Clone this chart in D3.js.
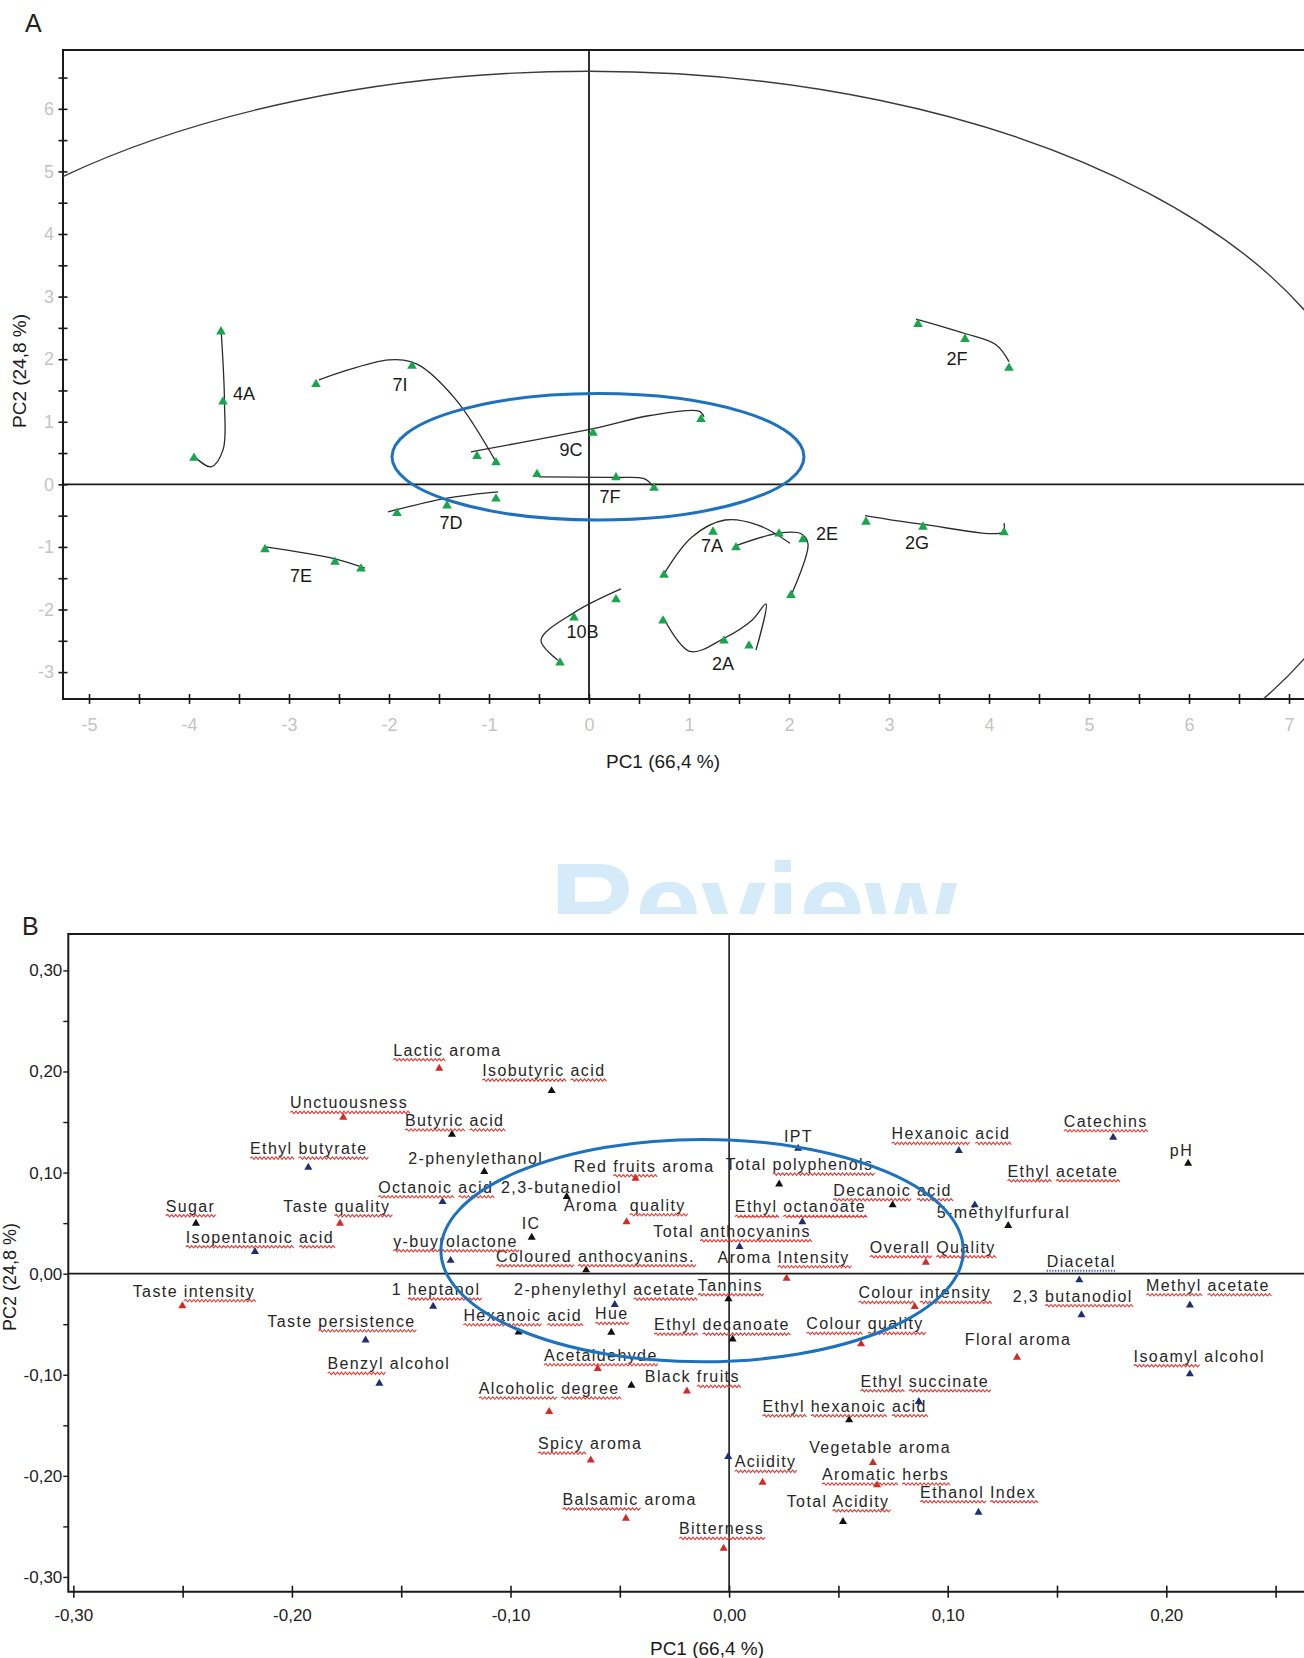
<!DOCTYPE html>
<html><head><meta charset="utf-8">
<script src="https://cdn.jsdelivr.net/npm/d3@7"></script>
<style>
body{margin:0;background:#fff;}
svg{display:block;font-family:"Liberation Sans",Arial,sans-serif;}
</style></head><body>
<svg id="fig" width="1304" height="1658"></svg>
<script>
// ---------- Panel A: wine sample scores (PC1 / PC2) ----------
const groupNames = ["4A","7I","9C","7F","7D","7E","10B","2A","7A","2E","2G","2F"];

// trajectory traced by each wine over time
const groupPaths = [
  [[-3.68,2.49],[-3.645,1.3],[-3.66,0.55],[-3.78,0.28],[-3.95,0.45]],
  [[-2.7,1.67],[-2.0,1.99],[-1.72,1.92],[-1.33,1.35],[-0.92,0.33]],
  [[-1.18,0.52],[0.04,0.89],[0.61,1.1],[1.1,1.17],[1.15,1.08]],
  [[-0.5,0.12],[0.27,0.11],[0.55,0.09],[0.64,-0.03]],
  [[-2.01,-0.44],[-1.42,-0.22],[-0.91,-0.12]],
  [[-3.24,-1.0],[-2.54,-1.19],[-2.24,-1.34]],
  [[0.32,-1.67],[-0.15,-2.05],[-0.48,-2.49],[-0.31,-2.81]],
  [[0.74,-2.12],[1.01,-2.67],[1.35,-2.46],[1.63,-2.17],[1.77,-1.91],[1.67,-2.65]],
  [[0.75,-1.43],[1.03,-0.84],[1.36,-0.57],[1.69,-0.65],[2.01,-0.94]],
  [[1.47,-0.98],[1.9,-0.78],[2.12,-0.79],[2.19,-0.95],[2.03,-1.74]],
  [[2.76,-0.5],[3.34,-0.64],[4.14,-0.76],[4.15,-0.62]],
  [[3.27,2.64],[3.76,2.41],[4.07,2.23],[4.2,1.96]]
];

// sampled scores (triangles)
const groupSamples = [
  [[-3.68,2.44],[-3.66,1.32],[-3.95,0.42]],
  [[-2.73,1.60],[-1.77,1.89],[-0.93,0.35]],
  [[-1.12,0.45],[0.04,0.82],[1.12,1.04]],
  [[-0.52,0.16],[0.27,0.11],[0.65,-0.06]],
  [[-1.92,-0.46],[-1.42,-0.34],[-0.93,-0.23]],
  [[-3.24,-1.04],[-2.54,-1.24],[-2.28,-1.35]],
  [[0.27,-1.84],[-0.15,-2.13],[-0.29,-2.85]],
  [[0.74,-2.18],[1.35,-2.5],[1.6,-2.58]],
  [[0.75,-1.45],[1.24,-0.76],[1.9,-0.79]],
  [[1.47,-1.01],[2.14,-0.88],[2.02,-1.77]],
  [[2.77,-0.6],[3.34,-0.68],[4.15,-0.77]],
  [[3.29,2.56],[3.76,2.32],[4.2,1.86]]
];

// where each wine name is written (PC1, PC2)
const groupLabelAt = [
  [-3.45,1.45],[-1.89,1.59],[-0.18,0.55],[0.21,-0.2],[-1.38,-0.61],[-2.88,-1.45],
  [-0.065,-2.35],[1.34,-2.86],[1.23,-0.97],[2.38,-0.78],[3.28,-0.93],[3.68,2.01]
];

// confidence ellipse semi-axes (PC1, PC2 units) and the highlighted cluster
const confidenceAxes = [7.89, 6.6];
const clusterA = {cx: 0.09, cy: 0.44, rx: 2.06, ry: 1.01};

const ticksA_x = d3.range(-10, 15).map(v => v / 2);
const ticksA_y = d3.range(-6, 14).map(v => v / 2);

// ---------- Panel B: variable loadings ----------
const loadNames = [
  "Lactic aroma","Isobutyric acid","Unctuousness","Butyric acid","Ethyl butyrate","2-phenylethanol",
  "Red fruits aroma","Octanoic acid","2,3-butanediol","Aroma  quality","Sugar","Taste quality",
  "Isopentanoic acid","IC","γ-buyrolactone","Coloured anthocyanins.","IPT","Total polyphenols",
  "Ethyl octanoate","Total anthocyanins","Aroma Intensity","Hexanoic acid","Catechins","pH",
  "Ethyl acetate","Decanoic acid","5-méthylfurfural","Overall Quality","Diacetal","Taste intensity",
  "1 heptanol","2-phenylethyl acetate","Tannins","Colour intensity","2,3 butanodiol","Methyl acetate",
  "Taste persistence","Hexanoic acid","Hue","Ethyl decanoate","Colour quality","Floral aroma",
  "Isoamyl alcohol","Benzyl alcohol","Acetaldehyde","","Black fruits","Alcoholic degree",
  "Ethyl succinate","Ethyl hexanoic acid","Spicy aroma","Vegetable aroma","","Aciidity",
  "Aromatic herbs","Ethanol Index","Total Acidity","Balsamic aroma","Bitterness"
];
const loadPC1 = [
  -0.1326,-0.0812,-0.1765,-0.1268,-0.1925,-0.1120,
  -0.0428,-0.1311,-0.0743,-0.0469,-0.2439,-0.1780,
  -0.2169,-0.0903,-0.1274,-0.0654,0.0316,0.0229,
  0.0335,0.0048,0.0263,0.1051,0.1757,0.2100,
  0.1124,0.0748,0.1277,0.0900,0.1602,-0.2501,
  -0.1354,-0.0523,-0.0003,0.0849,0.1612,0.2108,
  -0.1663,-0.0963,-0.0539,0.0016,0.0604,0.1317,
  0.2108,-0.1600,-0.0601,-0.0447,-0.0193,-0.0823,
  0.0868,0.0549,-0.0633,0.0658,-0.0004,0.0153,
  0.0677,0.1141,0.0521,-0.0472,-0.0025
];
const loadPC2 = [
  0.2031,0.1809,0.1546,0.1378,0.1051,0.1008,
  0.0943,0.0711,0.0761,0.0513,0.0498,0.0498,
  0.0217,0.0359,0.0130,0.0036,0.1239,0.0886,
  0.0513,0.0266,-0.0046,0.1216,0.1348,0.1091,
  0.0679,0.0679,0.0474,0.0112,-0.0063,-0.0320,
  -0.0323,-0.0306,-0.0249,-0.0327,-0.0409,-0.0311,
  -0.0657,-0.0578,-0.0581,-0.0647,-0.0696,-0.0828,
  -0.0993,-0.1085,-0.0941,-0.1105,-0.1163,-0.1366,
  -0.1267,-0.1448,-0.1844,-0.1870,-0.1811,-0.2064,
  -0.2091,-0.2361,-0.2454,-0.2420,-0.2717
];
// s = sensory, v = volatile compound, c = chemical parameter
const loadKind = [
  "s","c","s","c","v","c",
  "s","v","c","s","c","s",
  "v","c","v","c","v","c",
  "v","v","s","v","v","c",
  "v","c","c","s","v","s",
  "v","v","c","s","v","v",
  "v","c","c","c","s","s",
  "v","v","s","c","s","s",
  "v","c","s","s","v","s",
  "s","v","c","s","s"
];
const ticksB_x = d3.range(-6, 6).map(v => v / 20);
const ticksB_y = d3.range(-6, 7).map(v => v / 20);
const clusterB = {cx: -0.01235, cy: 0.0228, rx: 0.1195, ry: 0.11};

// label placement: pixel offset of text start / baseline from its marker
const loadLabelOffset = [
  [-46,-12.6],[-69.4,-14.7],[-53.3,-9],[-47,-8.3],[-58.3,-13.3],[-76,-7.4],
  [-61.7,-6.6],[-64.4,-9],[-65.7,-3.4],[-62.7,-11],[-30.3,-11.6],[-56.7,-11.6],
  [-69.3,-9],[-10,-8],[-57.4,-13.8],[-90.2,-8.3],[-14.3,-6.6],[-53.3,-14],
  [-67.5,-9.4],[-86.3,-10],[-69,-15.6],[-67.3,-11.4],[-49.3,-10.6],[-18.3,-7.3],
  [32.7,-28.3],[-59.4,-9.3],[-71.6,-7.4],[-56,-9.6],[-32.6,-13.3],[-49.7,-9.3],
  [-41.5,-11.3],[-100.7,-9.5],[-30.6,-8.1],[-56.3,-8.4],[-68.8,-13.3],[-43.8,-14.3],
  [-98.3,-13.3],[-55.2,-11.3],[-16.3,-13],[-78.5,-9],[-54.8,-14.7],[-52.2,-12.3],
  [-56.3,-12.3],[-51.9,-14],[-53.8,-8],[0,0],[-42.1,-8.9],[-70.4,-17.7],
  [-58.4,-15],[-86.7,-8.3],[-52.7,-11],[-63.8,-10],[0,0],[-27.9,-15],
  [-55.1,-5],[-58.4,-14.6],[-56.3,-15],[-63.4,-13.3],[-44.6,-14]
];
// words carrying a proofing underline (word indices); "dot" = dotted blue
const proofMarks = [
  [0],[0,1],[0],[0,1],[0,1],[],
  [1],[0,1],[],[1],[0],[1],
  [0,1],[],[0],[0,1],[],[1],
  [0,1],[1],[1],[0,1],[0],[],
  [0,1],[0,1],[],[0,1],"dot",[1],
  [1],[1],[0],[0,1],[1],[0,1],
  [1],[0,1],[0],[0,1],[0,1],[],
  [0],[0],[0],[],[1],[0,1],
  [0,1],[0,1,2],[0],[],[],[0],
  [0,1],[0,1],[1],[0],[0]
];
const kindColor = {s: "#d42a26", v: "#1e2f72", c: "#111111"};

const svg = d3.select("#fig");
const defs = svg.append("defs");

// ---------- watermark ----------
defs.append("clipPath").attr("id", "wmClip")
  .append("rect").attr("x", 0).attr("y", 0).attr("width", 1304).attr("height", 914);
svg.append("text").attr("clip-path", "url(#wmClip)")
  .attr("x", 550).attr("y", 946)
  .attr("font-size", 118).attr("font-weight", "bold")
  .attr("fill", "#d5ebf9").text("Review");

// ================= Panel A =================
const xA = d3.scaleLinear().domain([-5.26, 7.15]).range([63, 1304]);
const yA = d3.scaleLinear().domain([-3.43, 6.94]).range([699, 50]);
const gA = svg.append("g");

defs.append("clipPath").attr("id", "clipA")
  .append("rect").attr("x", 63).attr("y", 50).attr("width", 1304 - 63).attr("height", 649);

gA.append("text").attr("x", 25).attr("y", 32).attr("font-size", 25).attr("fill", "#222").text("A");

// frame
gA.append("path").attr("d", `M1304,50H63V699H1304`).attr("fill", "none")
  .attr("stroke", "#1a1a1a").attr("stroke-width", 2);

// axes
const axLeftA = gA.append("g").attr("transform", "translate(63,0)")
  .call(d3.axisLeft(yA).tickValues(ticksA_y)
    .tickFormat(d => Number.isInteger(d) ? String(d) : "").tickSizeOuter(0));
axLeftA.select(".domain").remove();
axLeftA.selectAll(".tick line").attr("x1", 4.5).attr("x2", -4.5).attr("stroke", "#1a1a1a").attr("stroke-width", 1.6);
axLeftA.selectAll(".tick text").attr("x", -9).attr("font-size", 18).attr("fill", "#c4c4c4").attr("font-family", null);

const axBottomA = gA.append("g").attr("transform", "translate(0,699)")
  .call(d3.axisBottom(xA).tickValues(ticksA_x)
    .tickFormat(d => Number.isInteger(d) ? String(d) : "").tickSizeOuter(0));
axBottomA.select(".domain").remove();
axBottomA.selectAll(".tick line").attr("y1", -5).attr("y2", 5).attr("stroke", "#1a1a1a").attr("stroke-width", 1.6);
axBottomA.selectAll(".tick text").attr("y", 19).attr("font-size", 18).attr("fill", "#c4c4c4").attr("font-family", null);

// zero lines
gA.append("line").attr("x1", 63).attr("x2", 1304).attr("y1", yA(0)).attr("y2", yA(0))
  .attr("stroke", "#1a1a1a").attr("stroke-width", 1.8);
gA.append("line").attr("x1", xA(0)).attr("x2", xA(0)).attr("y1", 50).attr("y2", 699)
  .attr("stroke", "#1a1a1a").attr("stroke-width", 1.8);

// confidence ellipse
gA.append("ellipse").attr("clip-path", "url(#clipA)")
  .attr("cx", xA(0)).attr("cy", yA(0))
  .attr("rx", xA(confidenceAxes[0]) - xA(0)).attr("ry", yA(0) - yA(confidenceAxes[1]))
  .attr("fill", "none").attr("stroke", "#3a3a3a").attr("stroke-width", 1.4);

// trajectories
const lineA = d3.line().x(d => xA(d[0])).y(d => yA(d[1])).curve(d3.curveCatmullRom.alpha(0.5));
gA.append("g").selectAll("path").data(groupPaths).join("path")
  .attr("d", lineA).attr("fill", "none").attr("stroke", "#2b2b2b").attr("stroke-width", 1.3);

// highlighted cluster
gA.append("ellipse")
  .attr("cx", xA(clusterA.cx)).attr("cy", yA(clusterA.cy))
  .attr("rx", xA(clusterA.rx) - xA(0)).attr("ry", yA(0) - yA(clusterA.ry))
  .attr("fill", "none").attr("stroke", "#1d72bf").attr("stroke-width", 3);

// sample triangles
const triA = d3.symbol(d3.symbolTriangle, 40);
gA.append("g").selectAll("path").data(groupSamples.flat()).join("path")
  .attr("d", triA).attr("transform", d => `translate(${xA(d[0])},${yA(d[1])})`)
  .attr("fill", "#17a64c");

// wine names
gA.append("g").selectAll("text").data(groupNames).join("text")
  .attr("x", (d, i) => xA(groupLabelAt[i][0])).attr("y", (d, i) => yA(groupLabelAt[i][1]))
  .attr("text-anchor", "middle").attr("dy", "0.36em")
  .attr("font-size", 18).attr("fill", "#1a1a1a").text(d => d);

// axis titles
gA.append("text").attr("x", 663).attr("y", 768).attr("text-anchor", "middle")
  .attr("font-size", 19).attr("fill", "#1a1a1a").text("PC1 (66,4 %)");
gA.append("text").attr("transform", "translate(26,371) rotate(-90)").attr("text-anchor", "middle")
  .attr("font-size", 19).attr("fill", "#1a1a1a").text("PC2 (24,8 %)");

// ================= Panel B =================
const xB = d3.scaleLinear().domain([-0.3023, 0.2630]).range([68.3, 1304]);
const yB = d3.scaleLinear().domain([-0.3146, 0.336]).range([1591.7, 934]);
const gB = svg.append("g");
const fmtB = d => {
  const r = Math.round(d * 100);
  if (r % 10 !== 0) return "";
  return (r < 0 ? "-" : "") + (Math.abs(r) / 100).toFixed(2).replace(".", ",");
};

gB.append("text").attr("x", 22).attr("y", 935).attr("font-size", 25).attr("fill", "#222").text("B");

gB.append("path").attr("d", `M1304,934H68.3V1591.7H1304`).attr("fill", "none")
  .attr("stroke", "#1a1a1a").attr("stroke-width", 2);

const axLeftB = gB.append("g").attr("transform", "translate(68.3,0)")
  .call(d3.axisLeft(yB).tickValues(ticksB_y).tickFormat(fmtB).tickSize(5).tickSizeOuter(0));
axLeftB.select(".domain").remove();
axLeftB.selectAll(".tick line").attr("stroke", "#1a1a1a").attr("stroke-width", 1.4);
axLeftB.selectAll(".tick text").attr("x", -6).attr("font-size", 17).attr("fill", "#222").attr("font-family", null);

const axBottomB = gB.append("g").attr("transform", "translate(0,1591.7)")
  .call(d3.axisBottom(xB).tickValues(ticksB_x).tickFormat(fmtB).tickSizeOuter(0));
axBottomB.select(".domain").remove();
axBottomB.selectAll(".tick line").attr("y1", -6).attr("y2", 6).attr("stroke", "#1a1a1a").attr("stroke-width", 1.6);
axBottomB.selectAll(".tick text").attr("y", 17).attr("font-size", 17).attr("fill", "#222").attr("font-family", null);

gB.append("line").attr("x1", 68.3).attr("x2", 1304).attr("y1", yB(0)).attr("y2", yB(0))
  .attr("stroke", "#1a1a1a").attr("stroke-width", 1.6);
gB.append("line").attr("x1", xB(0)).attr("x2", xB(0)).attr("y1", 934).attr("y2", 1591.7)
  .attr("stroke", "#1a1a1a").attr("stroke-width", 1.6);

const loadings = loadNames.map((n, i) => ({
  name: n, x: loadPC1[i], y: loadPC2[i], kind: loadKind[i],
  off: loadLabelOffset[i], marks: proofMarks[i]
}));

const triB = d3.symbol(d3.symbolTriangle, 28);
gB.append("g").selectAll("path").data(loadings).join("path")
  .attr("d", triB).attr("transform", d => `translate(${xB(d.x)},${yB(d.y)})`)
  .attr("fill", d => kindColor[d.kind]);

const labelsB = gB.append("g").selectAll("text").data(loadings.filter(d => d.name)).join("text")
  .attr("x", d => xB(d.x) + d.off[0]).attr("y", d => yB(d.y) + d.off[1])
  .attr("font-size", 16).style("letter-spacing", "1.4px").style("white-space", "pre")
  .attr("fill", "#262626").text(d => d.name);

// proofing underlines under the flagged words
const markG = gB.append("g");
labelsB.each(function(d) {
  if (!d.marks || (Array.isArray(d.marks) && !d.marks.length)) return;
  const node = this;
  const words = [];
  const re = /\S+/g; let m;
  while ((m = re.exec(d.name))) words.push([m.index, m.index + m[0].length - 1]);
  const base = yB(d.y) + d.off[1] + 4;
  const idx = d.marks === "dot" ? [0] : d.marks;
  idx.forEach(w => {
    const [a, b] = words[w];
    const x0 = node.getStartPositionOfChar(a).x;
    const x1 = node.getEndPositionOfChar(b).x;
    if (d.marks === "dot") {
      markG.append("line").attr("x1", x0).attr("x2", x1).attr("y1", base).attr("y2", base)
        .attr("stroke", "#3553b8").attr("stroke-width", 1.8).attr("stroke-dasharray", "1.2,1.6");
      return;
    }
    let p = `M${x0},${base}`, k = 0;
    for (let x = x0; x < x1; x += 2, k++) p += `L${x + 2},${base + (k % 2 ? 1.2 : -1.2)}`;
    markG.append("path").attr("d", p).attr("fill", "none")
      .attr("stroke", "#e03b36").attr("stroke-width", 1.1);
  });
});

gB.append("ellipse")
  .attr("cx", xB(clusterB.cx)).attr("cy", yB(clusterB.cy))
  .attr("rx", xB(clusterB.rx) - xB(0)).attr("ry", yB(0) - yB(clusterB.ry))
  .attr("fill", "none").attr("stroke", "#1d72bf").attr("stroke-width", 3);

gB.append("text").attr("x", 707).attr("y", 1655).attr("text-anchor", "middle")
  .attr("font-size", 19).attr("fill", "#1a1a1a").text("PC1 (66,4 %)");
gB.append("text").attr("transform", "translate(16,1277) rotate(-90)").attr("text-anchor", "middle")
  .attr("font-size", 18).attr("fill", "#1a1a1a").text("PC2 (24,8 %)");
</script></body></html>
